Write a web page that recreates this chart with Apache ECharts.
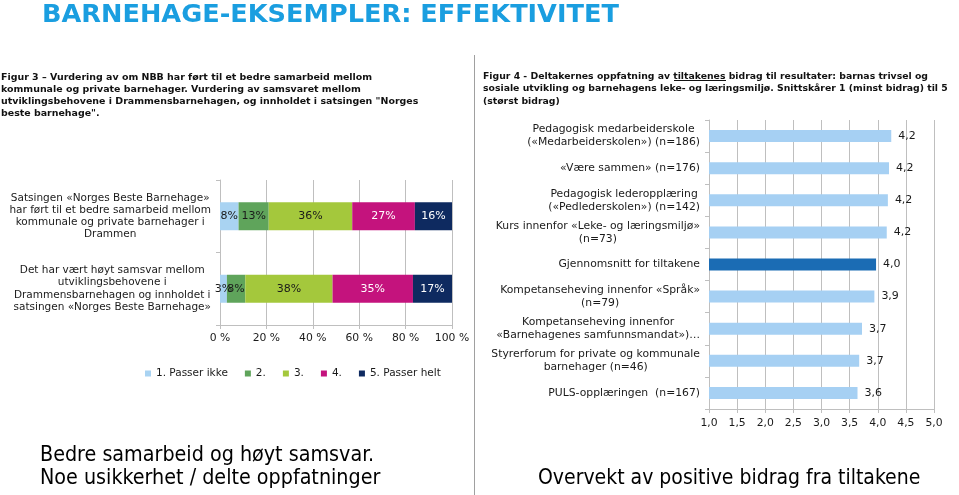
<!DOCTYPE html>
<html>
<head>
<meta charset="utf-8">
<script src="https://cdn.jsdelivr.net/npm/echarts@6/dist/echarts.min.js"></script>
<style>
  html, body { margin: 0; padding: 0; background: #fff; }
  #chart { width: 959px; height: 495px; }
</style>
</head>
<body>
<div id="chart"></div>
<script>
const font = "'DejaVu Sans', Verdana, sans-serif";
const capFont = "'DejaVu Sans Condensed', 'Liberation Sans Narrow', 'Liberation Sans', sans-serif";

// Figur 3 - 100% stablet
const fig3Categories = [
  "Satsingen «Norges Beste Barnehage»\nhar ført til et bedre samarbeid mellom\nkommunale og private barnehager i\nDrammen",
  "Det har vært høyt samsvar mellom\nutviklingsbehovene i\nDrammensbarnehagen og innholdet i\nsatsingen «Norges Beste Barnehage»"
];
const fig3Levels = ["1. Passer ikke", "2.", "3.", "4.", "5. Passer helt"];
const fig3Values = [
  [8, 3],
  [13, 8],
  [36, 38],
  [27, 35],
  [16, 17]
];
const fig3Colors = ["#a9d3f2", "#5fa45b", "#a4c83c", "#c4137d", "#0e2a60"];

// Figur 4 - snittskår
const fig4Categories = [
  "Pedagogisk medarbeiderskole\n(«Medarbeiderskolen») (n=186)",
  "«Være sammen» (n=176)",
  "Pedagogisk lederopplæring\n(«Pedlederskolen») (n=142)",
  "Kurs innenfor «Leke- og læringsmiljø»\n(n=73)",
  "Gjennomsnitt for tiltakene",
  "Kompetanseheving innenfor «Språk»\n(n=79)",
  "Kompetanseheving innenfor\n«Barnehagenes samfunnsmandat»)…",
  "Styrerforum for private og kommunale\nbarnehager (n=46)",
  "PULS-opplæringen  (n=167)"
];
const fig4Values = [4.24, 4.20, 4.18, 4.16, 3.97, 3.94, 3.72, 3.67, 3.64];
const fig4Average = "Gjennomsnitt for tiltakene";

const rowSums = fig3Categories.map((_, i) => fig3Values.reduce((s, row) => s + row[i], 0));

const chart = echarts.init(document.getElementById("chart"));

// flerlinjede etiketter sentrert linje for linje, som i Excel
const centered = (txt) => txt.split("\n").map(l => "{c|" + l + "}").join("\n");

const gridLine = "#bfbfbf";
const textColor = "#1a1a1a";

const option = {
  animation: false,
  backgroundColor: "#fff",
  textStyle: { fontFamily: font },
  grid: [
    { left: 220, top: 180, width: 232, height: 145 },
    { left: 709, top: 120, width: 225, height: 289 }
  ],
  legend: {
    left: 140,
    top: 363,
    icon: "rect",
    itemWidth: 6,
    itemHeight: 6,
    itemGap: 17,
    data: fig3Levels,
    textStyle: { fontFamily: font, fontSize: 10.5, color: textColor }
  },
  xAxis: [
    {
      gridIndex: 0,
      type: "value",
      min: 0,
      max: 100,
      interval: 20,
      axisLine: { show: true, lineStyle: { color: gridLine } },
      axisTick: { show: true, length: 4, lineStyle: { color: gridLine } },
      splitLine: { show: true, lineStyle: { color: gridLine } },
      axisLabel: { fontFamily: font, fontSize: 10.8, color: textColor, margin: 8, formatter: v => v + " %" }
    },
    {
      gridIndex: 1,
      type: "value",
      min: 1,
      max: 5,
      interval: 0.5,
      axisLine: { show: true, lineStyle: { color: gridLine } },
      axisTick: { show: true, length: 4, lineStyle: { color: gridLine } },
      splitLine: { show: true, lineStyle: { color: gridLine } },
      axisLabel: { fontFamily: font, fontSize: 10.8, color: textColor, margin: 9, formatter: v => v.toFixed(1).replace(".", ",") }
    }
  ],
  yAxis: [
    {
      gridIndex: 0,
      type: "category",
      inverse: true,
      data: fig3Categories,
      axisLine: { show: true, lineStyle: { color: gridLine } },
      axisTick: { show: true, length: 4, lineStyle: { color: gridLine } },
      axisLabel: {
        margin: 9,
        formatter: centered,
        rich: { c: { align: "center", fontFamily: font, fontSize: 10.5, lineHeight: 12.3, color: textColor } }
      }
    },
    {
      gridIndex: 1,
      type: "category",
      inverse: true,
      data: fig4Categories,
      axisLine: { show: true, lineStyle: { color: gridLine } },
      axisTick: { show: true, length: 4, lineStyle: { color: gridLine } },
      axisLabel: {
        margin: 9,
        formatter: centered,
        rich: { c: { align: "center", fontFamily: font, fontSize: 10.8, lineHeight: 13, color: textColor } }
      }
    }
  ],
  series: [
    ...fig3Levels.map((name, k) => ({
      name,
      type: "bar",
      stack: "fig3",
      xAxisIndex: 0,
      yAxisIndex: 0,
      barWidth: 28,
      itemStyle: { color: fig3Colors[k] },
      label: {
        show: true,
        position: "inside",
        fontFamily: font,
        fontSize: 11,
        color: k >= 3 ? "#ffffff" : textColor,
        formatter: p => fig3Values[k][p.dataIndex] + "%"
      },
      data: fig3Values[k].map((v, i) => v / rowSums[i] * 100)
    })),
    {
      name: "Snittskår",
      type: "bar",
      xAxisIndex: 1,
      yAxisIndex: 1,
      barWidth: 12,
      clip: true,
      itemStyle: {
        color: p => (p.name === fig4Average ? "#1b6cb4" : "#a6d0f3")
      },
      label: {
        show: true,
        position: "right",
        distance: 7,
        fontFamily: font,
        fontSize: 11,
        color: textColor,
        formatter: p => p.value.toFixed(1).replace(".", ",")
      },
      data: fig4Values
    }
  ],
  graphic: [
    {
      type: "text", left: 42, top: 2,
      style: { text: "BARNEHAGE-EKSEMPLER: EFFEKTIVITET", font: "bold 25.6px " + font, fill: "#1a9ee0" }
    },
    {
      type: "text", left: 1, top: 71,
      style: {
        text: "Figur 3 – Vurdering av om NBB har ført til et bedre samarbeid mellom\nkommunale og private barnehager. Vurdering av samsvaret mellom\nutviklingsbehovene i Drammensbarnehagen, og innholdet i satsingen \"Norges\nbeste barnehage\".",
        font: "bold 9.45px " + font, lineHeight: 12.1, fill: "#111"
      }
    },
    {
      type: "text", left: 483, top: 70,
      style: {
        text: "Figur 4 - Deltakernes oppfatning av tiltakenes bidrag til resultater: barnas trivsel og\nsosiale utvikling og barnehagens leke- og læringsmiljø. Snittskårer 1 (minst bidrag) til 5\n(størst bidrag)",
        font: "bold 9.3px " + font, lineHeight: 12.6, fill: "#111"
      }
    },
    {
      // understreking av «tiltakenes»
      type: "line", shape: { x1: 674, y1: 80.5, x2: 726, y2: 80.5 },
      style: { stroke: "#111", lineWidth: 1 }
    },
    {
      type: "line", shape: { x1: 474.5, y1: 55, x2: 474.5, y2: 495 },
      style: { stroke: "#a0a0a0", lineWidth: 1 }
    },
    {
      type: "text", left: 40, top: 444,
      style: {
        text: "Bedre samarbeid og høyt samsvar.\nNoe usikkerhet / delte oppfatninger",
        font: "21.3px " + capFont, lineHeight: 23, fill: "#000"
      }
    },
    {
      type: "text", left: 538, top: 467,
      style: { text: "Overvekt av positive bidrag fra tiltakene", font: "21px " + capFont, lineHeight: 23, fill: "#000" }
    }
  ]
};

chart.setOption(option);
</script>
</body>
</html>
